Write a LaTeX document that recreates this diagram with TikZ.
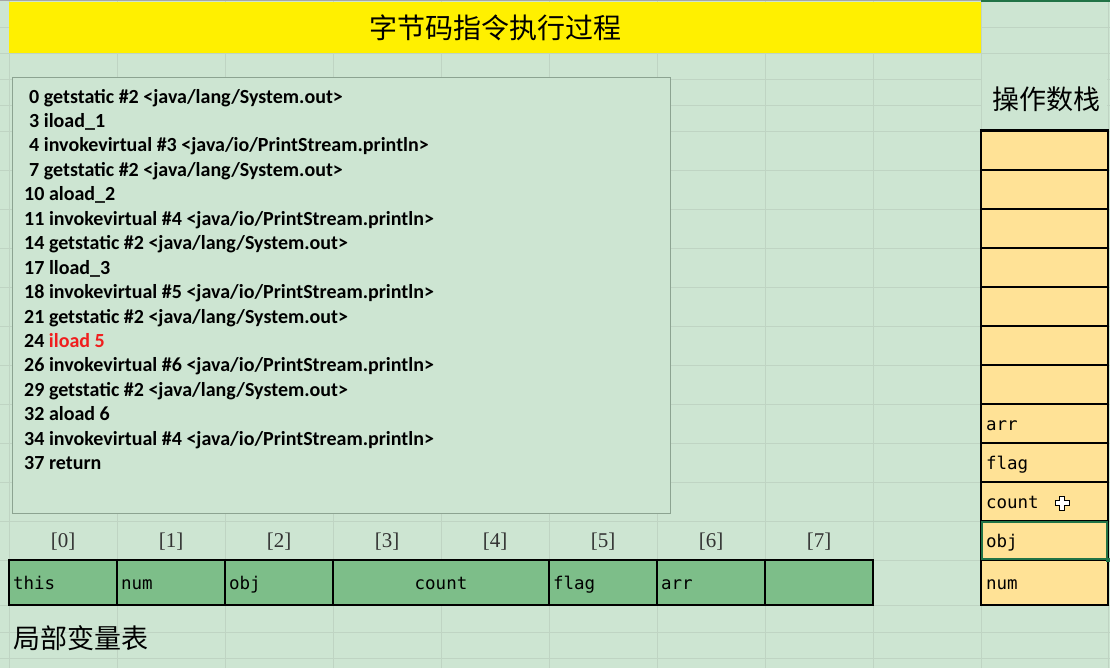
\documentclass[tikz,border=0pt]{standalone}
\usepackage{fontspec}
\newfontfamily\codefont{Carlito}
\newfontfamily\cellfont{DejaVu Sans Mono}
\newfontfamily\idxfont{Liberation Serif}
\newfontfamily\cjk{Noto Sans CJK SC}
\definecolor{bg}{RGB}{205,229,210}
\definecolor{gridc}{RGB}{191,212,195}
\definecolor{ttlyellow}{RGB}{255,240,0}
\definecolor{lvgreen}{RGB}{125,190,137}
\definecolor{stkfill}{RGB}{255,226,150}
\definecolor{boxline}{RGB}{140,163,145}
\definecolor{selgreen}{RGB}{33,115,70}
\definecolor{hlred}{RGB}{240,30,30}
\begin{document}
\begin{tikzpicture}[x=1pt,y=-1pt,
  codeline/.style={anchor=base west, inner sep=0pt, font=\codefont\bfseries\fontsize{20}{24}\selectfont},
  lvcell/.style={draw=black, line width=2.2pt, fill=lvgreen, minimum width=108pt, minimum height=45pt,
     inner xsep=4pt, inner ysep=0pt, text width=100pt, align=left, text height=14pt, text depth=0pt,
     font=\cellfont\fontsize{17.5}{20}\selectfont},
  stkcell/.style={draw=black, line width=2.2pt, fill=stkfill, minimum width=127pt, minimum height=39pt,
     inner xsep=5pt, inner ysep=0pt, text width=117pt, align=left, text height=14pt, text depth=0pt,
     font=\cellfont\fontsize{17.5}{20}\selectfont},
  idx/.style={inner sep=0pt, text=black!80, font=\idxfont\fontsize{21}{24}\selectfont},
  cjklabel/.style={inner sep=0pt, font=\cjk\fontsize{27}{31}\selectfont}
]
\useasboundingbox (0,0) rectangle (1110,668);
\fill[bg] (0,0) rectangle (1110,668);
% spreadsheet grid
\foreach \gx in {9,117,225,333,441,549,657,765,873,981,1108}
  \draw[gridc, line width=0.9pt] (\gx,0) -- (\gx,668);
\foreach \gy in {27,53,79,105,131,170,209,248,287,326,365,404,443,482,521,560,605,632,658}
  \draw[gridc, line width=0.9pt] (0,\gy) -- (1110,\gy);
\draw[gray!70, line width=1.2pt] (0,0.6) -- (1110,0.6);
\draw[selgreen, line width=2pt] (981,1) -- (1110,1);

% title
\node[fill=ttlyellow, minimum width=972pt, minimum height=51pt, inner sep=0pt,
      font=\cjk\fontsize{28}{32}\selectfont] (title) at (495,27.5) {字节码指令执行过程};

% code box
\node[fill=bg, draw=boxline, line width=1pt, minimum width=658pt, minimum height=435pt, inner sep=0pt]
  (codebox) at (341,295.5) {};
\node[codeline] (l1)  at (29,103.2) {0 getstatic \#2 <java/lang/System.out>};
\node[codeline] (l2)  at (29,127.6) {3 iload\_1};
\node[codeline] (l3)  at (29,152.0) {4 invokevirtual \#3 <java/io/PrintStream.println>};
\node[codeline] (l4)  at (29,176.5) {7 getstatic \#2 <java/lang/System.out>};
\node[codeline] (l5)  at (24,200.9) {10 aload\_2};
\node[codeline] (l6)  at (24,225.3) {11 invokevirtual \#4 <java/io/PrintStream.println>};
\node[codeline] (l7)  at (24,249.7) {14 getstatic \#2 <java/lang/System.out>};
\node[codeline] (l8)  at (24,274.1) {17 lload\_3};
\node[codeline] (l9)  at (24,298.6) {18 invokevirtual \#5 <java/io/PrintStream.println>};
\node[codeline] (l10) at (24,323.0) {21 getstatic \#2 <java/lang/System.out>};
\node[codeline] (l11) at (24,347.4) {24 \textcolor{hlred}{iload 5}};
\node[codeline] (l12) at (24,371.8) {26 invokevirtual \#6 <java/io/PrintStream.println>};
\node[codeline] (l13) at (24,396.2) {29 getstatic \#2 <java/lang/System.out>};
\node[codeline] (l14) at (24,420.7) {32 aload 6};
\node[codeline] (l15) at (24,445.1) {34 invokevirtual \#4 <java/io/PrintStream.println>};
\node[codeline] (l16) at (24,469.5) {37 return};

% local variable table indices
\node[idx] (i0) at (63,541.5) {[0]};
\node[idx] (i1) at (171,541.5) {[1]};
\node[idx] (i2) at (279,541.5) {[2]};
\node[idx] (i3) at (387,541.5) {[3]};
\node[idx] (i4) at (495,541.5) {[4]};
\node[idx] (i5) at (603,541.5) {[5]};
\node[idx] (i6) at (711,541.5) {[6]};
\node[idx] (i7) at (819,541.5) {[7]};

% local variable table
\node[lvcell] (v0) at (63,582.5) {this};
\node[lvcell] (v1) at (171,582.5) {num};
\node[lvcell] (v2) at (279,582.5) {obj};
\node[lvcell, minimum width=216pt, text width=208pt, align=center] (v3) at (441,582.5) {count};
\node[lvcell] (v5) at (603,582.5) {flag};
\node[lvcell] (v6) at (711,582.5) {arr};
\node[lvcell] (v7) at (819,582.5) {};

\node[cjklabel, anchor=west] (lvlabel) at (13,638) {局部变量表};

% operand stack
\node[fill=bg, minimum width=125pt, minimum height=76pt, inner sep=0pt] (stkhead) at (1044.5,92) {};
\node[cjklabel] (stklabel) at (1046,99) {操作数栈};
\foreach \k in {0,...,6}
  \node[stkcell] (s\k) at (1044.5,150.5+39*\k) {};
\node[stkcell] (s7) at (1044.5,423.5) {arr};
\node[stkcell] (s8) at (1044.5,462.5) {flag};
\node[stkcell] (s9) at (1044.5,501.5) {count};
\node[stkcell] (s10) at (1044.5,540.5) {obj};
\node[stkcell, minimum height=45pt] (s11) at (1044.5,582.5) {num};
\draw[line width=2.2pt] (s0.north west) -- (s0.north east);

% selection frame on obj
\node[draw=selgreen, line width=1.5pt, minimum width=125pt, minimum height=37pt, inner sep=0pt] (sel) at (1044.5,540.5) {};
\node[fill=selgreen, minimum size=4pt, inner sep=0pt] (selh) at (sel.south east) {};

% mouse cursor
\filldraw[fill=white, draw=black, line width=0.8pt]
  (1059.5,496) -- (1064.5,496) -- (1064.5,500.5) -- (1069,500.5) -- (1069,505.5) -- (1064.5,505.5)
  -- (1064.5,510) -- (1059.5,510) -- (1059.5,505.5) -- (1055,505.5) -- (1055,500.5) -- (1059.5,500.5) -- cycle;
\end{tikzpicture}
\end{document}
